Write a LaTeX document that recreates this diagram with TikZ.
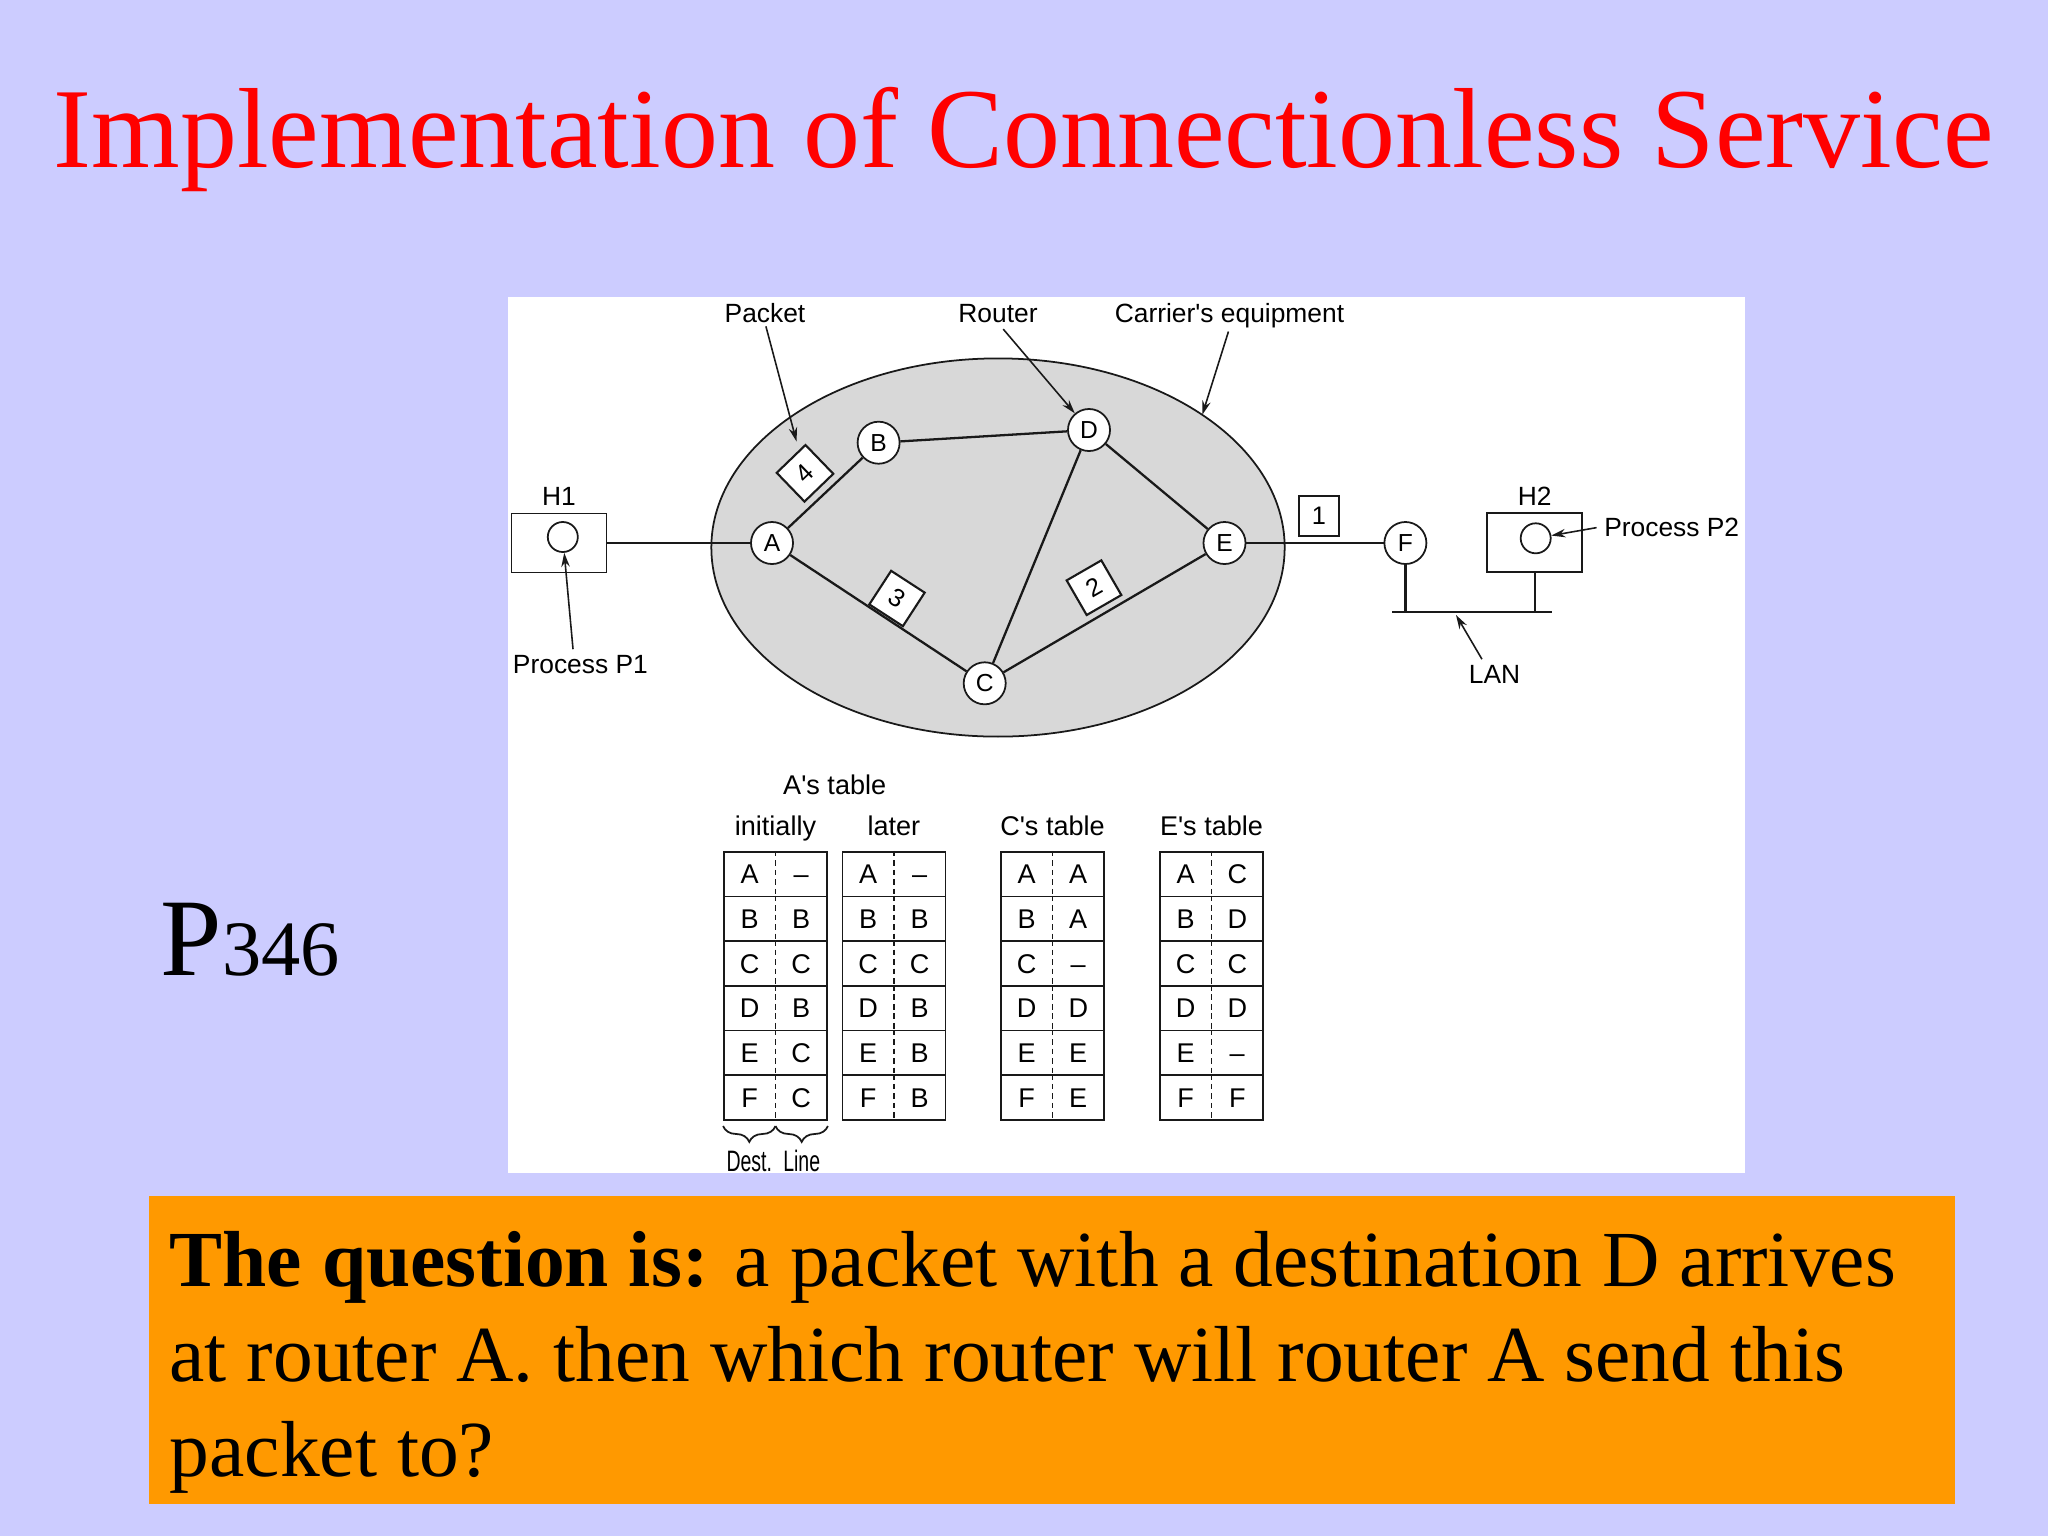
\documentclass[tikz,border=0pt]{standalone}
\usepackage{fontspec}
\setmainfont{Liberation Serif}
\newfontfamily\diagfont{Liberation Sans}
\newfontfamily\condfont[FakeStretch=0.66]{Liberation Sans}
\usepackage{tikz}
\usetikzlibrary{shapes.geometric, arrows.meta, positioning, calc, decorations.pathreplacing}
\definecolor{slidebg}{RGB}{204,204,255}
\definecolor{titlered}{RGB}{255,0,0}
\definecolor{qorange}{RGB}{255,153,0}
\definecolor{carriergray}{RGB}{216,216,216}
\definecolor{ink}{RGB}{25,25,25}
\tikzset{
  router/.style={circle, draw=ink, fill=white, minimum size=0.42cm, inner sep=0pt,
    line width=0.5pt, font=\diagfont\fontsize{7}{8}\selectfont},
  host/.style={rectangle, draw=ink, fill=white, minimum width=0.95cm,
    minimum height=0.59cm, inner sep=0pt, line width=0.5pt},
  proc/.style={circle, draw=ink, minimum size=0.3cm, inner sep=0pt, line width=0.5pt},
  pkt/.style={rectangle, draw=ink, fill=white, minimum size=0.4cm, inner sep=0pt,
    line width=0.6pt, font=\diagfont\fontsize{7.2}{8}\selectfont},
  lbl/.style={inner sep=0pt, font=\diagfont\fontsize{7.5}{9}\selectfont},
  hdr/.style={inner sep=0pt, font=\diagfont\fontsize{7.7}{9}\selectfont},
  cond/.style={inner sep=0pt, font=\condfont\fontsize{8.4}{10}\selectfont},
  cell/.style={rectangle, draw=ink, minimum width=1.03cm, minimum height=0.447cm,
    inner sep=0pt, line width=0.5pt},
  qtxt/.style={inner sep=0pt, font=\fontsize{22.6}{27}\selectfont},
  arrow/.style={-{Stealth[length=4pt, width=2.4pt]}, line width=0.45pt, color=ink},
  line/.style={line width=0.65pt, color=ink}
}

\begin{document}
\begin{tikzpicture}[x=0.01cm, y=-0.01cm]
  \useasboundingbox (0,0) rectangle (2048,1536);
  \fill[slidebg] (0,0) rectangle (2048,1536);

  \node[font=\fontsize{32.4}{36}\selectfont, text=titlered, anchor=base, inner sep=0pt]
    (title) at (1023.5,167) {Implementation of Connectionless Service};
  \node[anchor=base west, inner sep=0pt] (page) at (160,975)
    {\fontsize{31.4}{34}\selectfont P\fontsize{22.3}{26}\selectfont 346};

  % figure panel
  \fill[white] (508,297) rectangle (1745,1173);

  % carrier's network
  \node[ellipse, draw=ink, fill=carriergray, line width=0.5pt, minimum width=5.73cm,
    minimum height=3.78cm, inner sep=0pt, outer sep=0pt] (carrier) at (998,547.5) {};
  \node[router] (A) at (772,543) {A};
  \node[router] (B) at (878.6,442.7) {B};
  \node[router] (C) at (984.7,683.3) {C};
  \node[router] (D) at (1089,430) {D};
  \node[router] (E) at (1224.5,543) {E};
  \node[router] (F) at (1405.4,543) {F};

  % hosts
  \node[host] (h1) at (559,543) {};
  \node[proc] (p1) at (562.8,537) {};
  \node[lbl, above=1.7pt of h1] (h1lbl) {H1};
  \node[host] (h2) at (1534.75,542.3) {};
  \node[proc] (p2) at (1535.7,538.3) {};
  \node[lbl, above=1.7pt of h2] (h2lbl) {H2};

  % links
  \draw[line] (h1) -- (A);
  \draw[line] (A) -- (B);
  \draw[line] (B) -- (D);
  \draw[line] (D) -- (E);
  \draw[line] (D) -- (C);
  \draw[line] (A) -- (C);
  \draw[line] (C) -- (E);
  \draw[line] (E) -- (F);

  % LAN
  \coordinate (lanL) at (1392,612);
  \coordinate (lanR) at (1552,612);
  \coordinate (lanhit) at (1456,615);
  \draw[line, line width=0.8pt] (lanL) -- (lanR);
  \draw[line] (F) -- (F |- lanL);
  \draw[line] (h2) -- (h2 |- lanL);

  % packets
  \node[pkt, rotate=44] (pkt4) at (805,473.3) {4};
  \node[pkt, rotate=-33] (pkt3) at (897,598.5) {3};
  \node[pkt, rotate=30] (pkt2) at (1094,587.7) {2};
  \node[pkt] (pkt1) at (1319,516) {1};

  % callouts
  \node[lbl, anchor=base] (pktlbl) at (765,322) {Packet};
  \node[lbl, anchor=base] (rtrlbl) at (998,322) {Router};
  \node[lbl, anchor=base] (carlbl) at (1229.5,322) {Carrier's equipment};
  \node[lbl, anchor=base] (p1lbl) at (580.4,673.3) {Process P1};
  \node[lbl, anchor=base west] (p2lbl) at (1603.6,536.7) {Process P2};
  \node[lbl, anchor=base] (lanlbl) at (1494.6,683.3) {LAN};

  \draw[arrow, shorten <=1pt, shorten >=2.5pt] (pktlbl.south) -- (pkt4);
  \draw[arrow, shorten <=2.3pt] (rtrlbl.south) -- (D);
  \draw[arrow, shorten <=1pt] (carlbl.south) -- (carrier.33);
  \draw[arrow] ([xshift=-2.1pt, yshift=1.5pt]p1lbl.north) -- (p1);
  \draw[arrow] ([xshift=-2pt]p2lbl.west) -- (p2);
  \draw[arrow] ([xshift=-3.6pt, yshift=1.5pt]lanlbl.north) -- (lanhit);

  % routing tables
  \foreach \t/\tx/\lines in {1/724/{A/\textendash,B/B,C/C,D/B,E/C,F/C},
                             2/842.4/{A/\textendash,B/B,C/C,D/B,E/B,F/B},
                             3/1001/{A/A,B/A,C/\textendash,D/D,E/E,F/E},
                             4/1160/{A/C,B/D,C/C,D/D,E/\textendash,F/F}} {
    \foreach \dst/\ln [count=\r] in \lines {
      \node[cell] (t\t-\r) at ({\tx+51.5},{851.7+44.7*(\r-0.5)}) {};
      \draw[ink, line width=0.55pt, dash pattern=on 1.6pt off 1.1pt]
        (t\t-\r.north) -- (t\t-\r.south);
      \node[hdr, anchor=base] (t\t-\r-d) at ([xshift=-0.2575cm, yshift=-2.75pt]t\t-\r.center) {\dst};
      \node[hdr, anchor=base] (t\t-\r-l) at ([xshift=0.2575cm, yshift=-2.75pt]t\t-\r.center) {\ln};
    }
  }
  \node[hdr, anchor=base] (hdrA) at ($(t1-1.north)!0.5!(t2-1.north)+(0,-56.7)$) {A's table};
  \node[hdr, anchor=base] (hdrInit) at ($(t1-1.north)+(0,-15)$) {initially};
  \node[hdr, anchor=base] (hdrLater) at ($(t2-1.north)+(0,-15)$) {later};
  \node[hdr, anchor=base] (hdrC) at ($(t3-1.north)+(0,-15)$) {C's table};
  \node[hdr, anchor=base] (hdrE) at ($(t4-1.north)+(0,-15)$) {E's table};

  \draw[ink, line width=0.5pt, decorate, decoration={brace, mirror, amplitude=4.5pt}]
    ([yshift=-1.5pt]t1-6.south west) -- ([yshift=-1.5pt]t1-6.south);
  \draw[ink, line width=0.5pt, decorate, decoration={brace, mirror, amplitude=4.5pt}]
    ([yshift=-1.5pt]t1-6.south) -- ([yshift=-1.5pt]t1-6.south east);
  \node[cond, anchor=base] (dest) at ($(t1-6.south west)!0.5!(t1-6.south)+(0,51)$) {Dest.};
  \node[cond, anchor=base] (linelbl) at ($(t1-6.south)!0.5!(t1-6.south east)+(0,51)$) {Line};

  % question
  \fill[qorange] (149,1196) rectangle (1955,1504);
  \node[qtxt, anchor=base west] (q1) at (169,1286.7)
    {\textbf{The question is:} a packet with a destination D arrives};
  \node[qtxt, anchor=base west] (q2) at (169,1381.7)
    {at router A. then which router will router A send this};
  \node[qtxt, anchor=base west] (q3) at (169,1476.7) {packet to?};
\end{tikzpicture}
\end{document}
